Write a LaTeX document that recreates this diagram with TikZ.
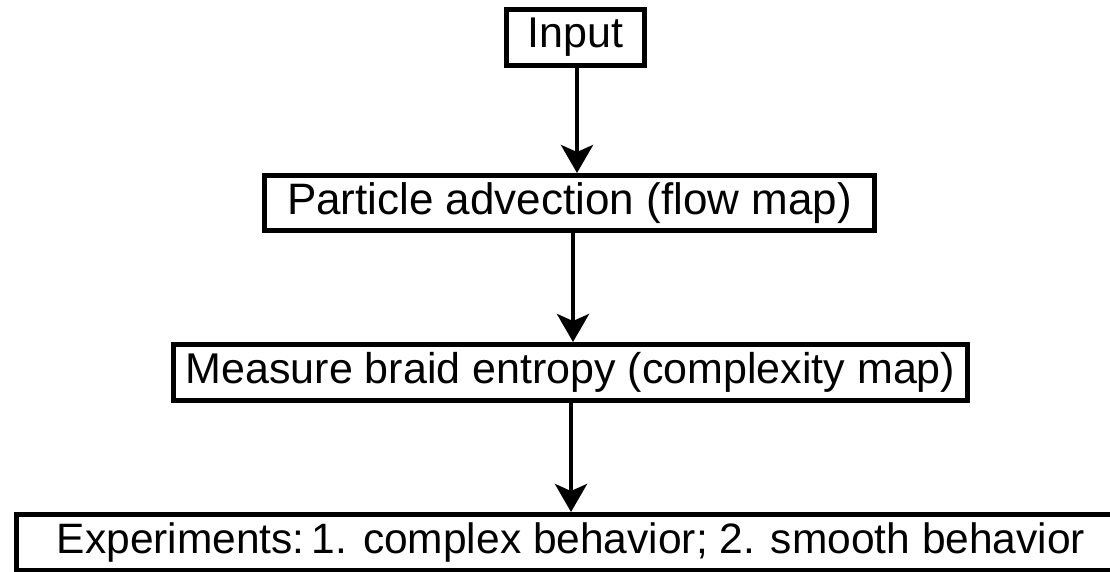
\documentclass[tikz,border=0pt]{standalone}
\usepackage{fontspec}
\setmainfont{Liberation Sans}
\usetikzlibrary{arrows.meta}
\begin{document}
\begin{tikzpicture}[x=1pt,y=-1pt,
  stepbox/.style={draw=black, line width=5pt, fill=white, inner sep=0pt, anchor=center,
    font=\fontsize{43}{50}\selectfont},
  arr/.style={line width=4.5pt, -{Stealth[length=28pt,width=32pt,inset=7pt]}}]
\useasboundingbox (0,0) rectangle (1110,571);
\clip (0,0) rectangle (1110,571);
\node[stepbox, minimum width=138pt, minimum height=56pt] (in) at (575.5,37.5) {Input};
\node[stepbox, minimum width=610pt, minimum height=55pt, font=\fontsize{44}{50}\selectfont] (pa) at (569.5,203) {Particle advection (flow map)};
\node[stepbox, minimum width=794pt, minimum height=56pt] (me) at (570.5,372.5) {Measure braid entropy (complexity map)};
\node[stepbox, minimum width=1110pt, minimum height=56pt, font=\fontsize{42.5}{50}\selectfont] (ex) at (571,542.5) {Experiments:\,1. complex behavior; 2. smooth behavior};
\coordinate (c1) at (577,0);
\coordinate (c2) at (573,0);
\coordinate (c3) at (571,0);
\draw[arr] (in.south -| c1) -- (pa.north -| c1);
\draw[arr] (pa.south -| c2) -- (me.north -| c2);
\draw[arr] (me.south -| c3) -- (ex.north -| c3);
\end{tikzpicture}
\end{document}
